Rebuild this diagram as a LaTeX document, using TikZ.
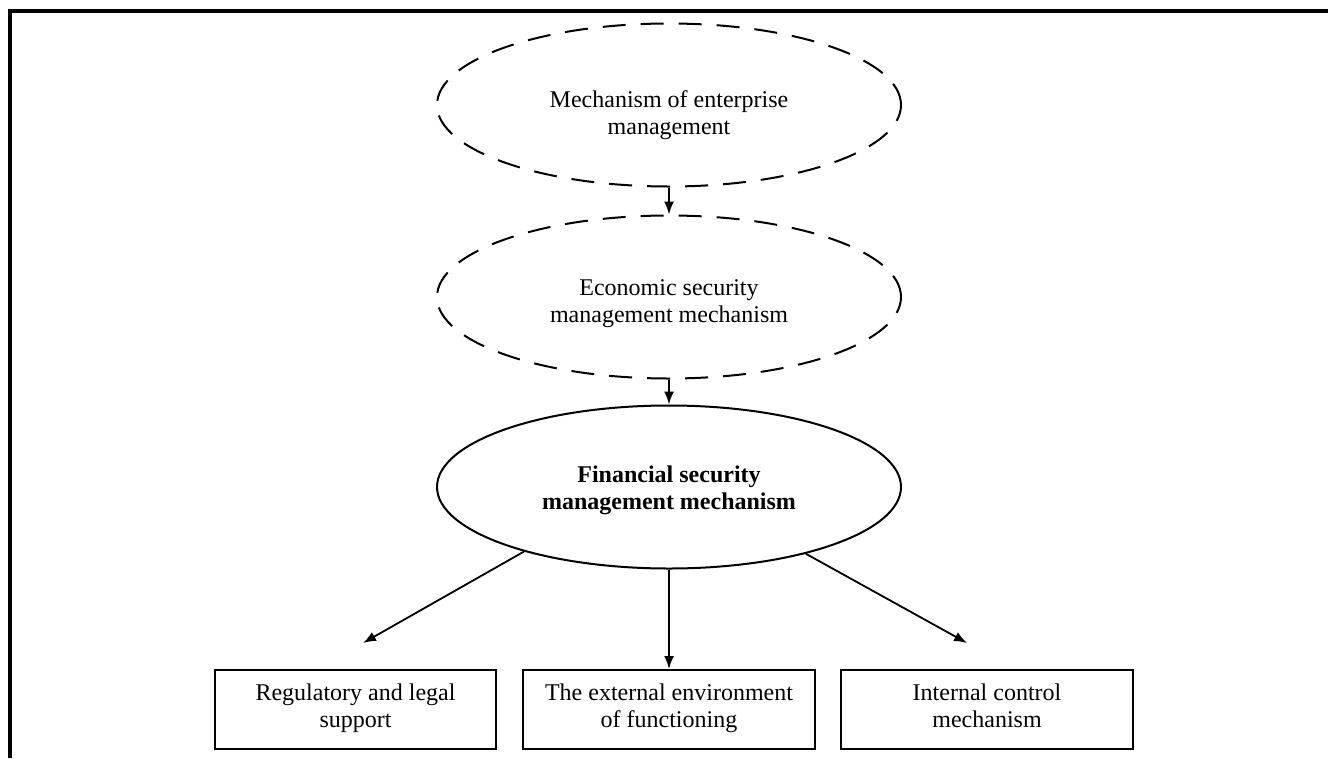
\documentclass[tikz,border=0pt]{standalone}
\usepackage{fontspec}
\setmainfont{Liberation Serif}
\usetikzlibrary{shapes.geometric,arrows.meta}

\begin{document}
\begin{tikzpicture}[x=1pt,y=-1pt,
  mech/.style={ellipse, draw, line width=2pt, minimum width=464pt, minimum height=163pt, inner sep=0pt},
  dashmech/.style={mech, dash pattern=on 23pt off 15pt},
  txt/.style={align=center, font=\fontsize{24}{27}\selectfont},
  part/.style={rectangle, draw, line width=2pt, minimum height=79pt, inner sep=0pt, align=center, font=\fontsize{24}{27}\selectfont, execute at begin node=\strut, execute at end node=\strut},
  arr/.style={-{Latex[length=13pt,width=10pt]}, line width=1.8pt}]

\useasboundingbox (0,0) rectangle (1328,758);

% frame: left and top edge only
\draw[line width=3.5pt] (10,758) |- (1328,11);

% the three mechanisms
\node[dashmech] (enterprise) at (669,105) {};
\node[txt] (enterprise-txt) at (669,115) {Mechanism of enterprise\\management};

\node[dashmech] (economic) at (669,297) {};
\node[txt] (economic-txt) at (669,304) {Economic security\\management mechanism};

\node[mech] (financial) at (669,487) {};
\node[txt, font=\fontsize{24}{27}\selectfont\bfseries] (financial-txt) at (669,490) {Financial security\\management mechanism};

% the three parts
\node[part, minimum width=281pt] (legal) at (355.5,709.5) {Regulatory and legal\\support};
\node[part, minimum width=292pt] (external) at (669,709.5) {The external environment\\of functioning};
\node[part, minimum width=292pt] (internal) at (987,709.5) {Internal control\\mechanism};

\coordinate (legal-tip) at (363,643);
\coordinate (internal-tip) at (967,643);

\draw[arr] (enterprise.south) -- (economic.north);
\draw[arr] (economic.south) -- (financial.north);

\draw[arr] (financial.204) -- (legal-tip);
\draw[arr] (financial.south) -- (external.north);
\draw[arr] (financial.-26) -- (internal-tip);

\end{tikzpicture}
\end{document}
